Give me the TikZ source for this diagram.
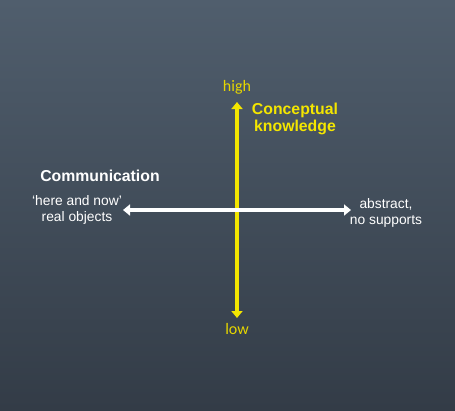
\documentclass[tikz,border=0pt]{standalone}
\usepackage{fontspec}
\setmainfont{Liberation Sans}
\newfontfamily\calib{Carlito}
\usetikzlibrary{arrows.meta}
\definecolor{bgtop}{HTML}{505E6D}
\definecolor{bgbot}{HTML}{333C47}
\definecolor{ylw}{HTML}{F4E600}
\definecolor{ylwtxt}{HTML}{E6D600}
\tikzset{
  px/.style={x=1pt,y=-1pt},
  axisy/.style={draw=ylw,line width=3.5pt,{Triangle[width=11pt,length=7pt]}-{Triangle[width=11pt,length=7pt]}},
  axisx/.style={draw=white,line width=3.5pt,{Triangle[width=11pt,length=7pt]}-{Triangle[width=11pt,length=7pt]}},
  small/.style={text=ylwtxt,font=\calib\fontsize{16}{18}\selectfont,inner sep=0pt},
  bold/.style={font=\bfseries\fontsize{15.8}{16.5}\selectfont,inner sep=0pt,align=center},
  lbl/.style={text=white,font=\fontsize{13.8}{16.5}\selectfont,inner sep=0pt,align=center}
}
\begin{document}
\begin{tikzpicture}[px]
\shade[top color=bgtop,bottom color=bgbot] (0,0) rectangle (455,410);
\useasboundingbox (0,0) rectangle (455,410);
\coordinate (ytop) at (237,102);
\coordinate (ybot) at (237,318);
\coordinate (xl) at (123,210);
\coordinate (xr) at (351,210);
\draw[axisy] (ybot) -- (ytop);
\draw[axisx] (xl) -- (xr);
\node[small] (high) at (237,87) {high};
\node[small] (low) at (237,329) {low};
\node[bold,text=ylw] (ck) at (295,119) {Conceptual\\knowledge};
\node[bold,text=white] (comm) at (100,176) {Communication};
\node[lbl] (left) at (77,210) {‘here and now’\\real objects};
\node[lbl] (right) at (386,213) {abstract,\\no supports};
\end{tikzpicture}
\end{document}
